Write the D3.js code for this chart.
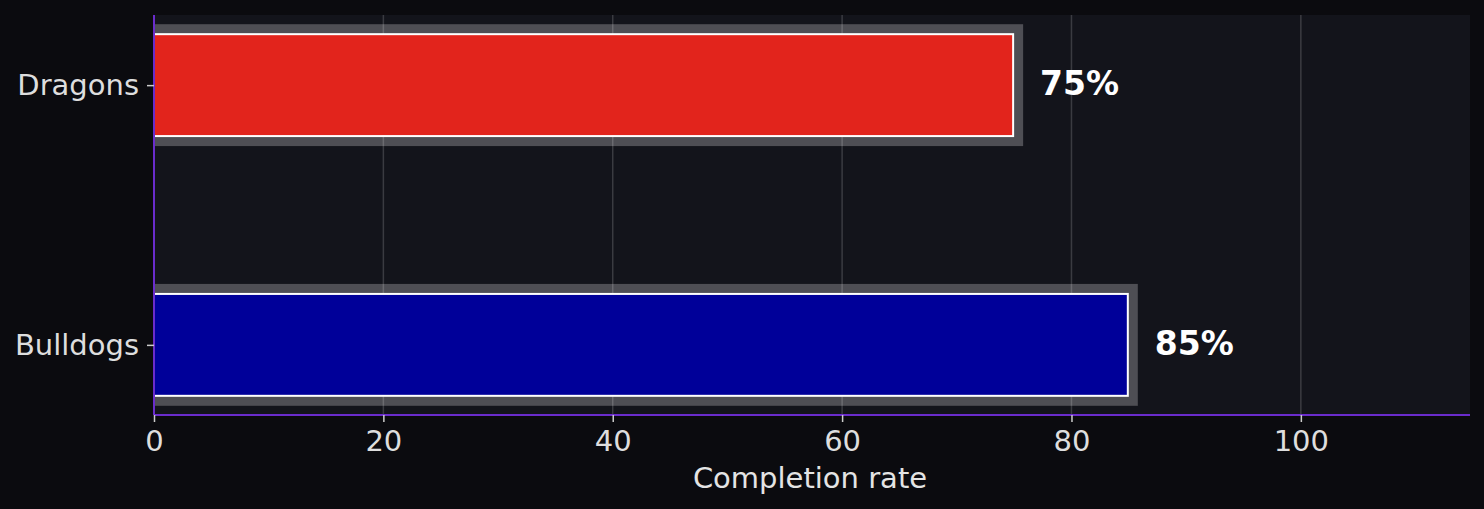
<!DOCTYPE html>
<html>
<head>
<meta charset="utf-8">
<script src="https://cdn.jsdelivr.net/npm/d3@7"></script>
<style>
  html, body { margin: 0; padding: 0; background: #0b0b0f; }
  svg { display: block; font-family: 'DejaVu Sans', sans-serif; }
</style>
</head>
<body>
<svg id="chart" width="1484" height="509"></svg>
<script>
// chart values
const teams = ['Bulldogs', 'Dragons'];
const rates = [85, 75];
const barColors = ['#000099', '#e2241c'];
const xTicks = [0, 20, 40, 60, 80, 100];
const xLabel = 'Completion rate';

const W = 1484;
const H = 509;
const margin = { top: 15, right: 14, bottom: 94, left: 154 };
const innerW = W - margin.left - margin.right;
const innerH = H - margin.top - margin.bottom;

const BAR_HEIGHT = 0.4;
const SHADOW_PAD = 9;

const svg = d3.select('#chart');
svg.append('rect').attr('width', W).attr('height', H).attr('fill', '#0b0b0f');

const x = d3.scaleLinear().domain([0, 114.75]).range([0, innerW]);
const y = d3.scaleLinear().domain([-0.27, teams.length - 1 + 0.27]).range([innerH, 0]);

const g = svg.append('g').attr('transform', `translate(${margin.left},${margin.top})`);

g.append('rect')
  .attr('width', innerW)
  .attr('height', innerH)
  .attr('fill', '#13141b');

const rows = teams.map((name, i) => ({ name, i, value: rates[i], color: barColors[i] }));
const barH = y(0) - y(BAR_HEIGHT);

// gray halo behind each bar
g.selectAll('rect.halo')
  .data(rows)
  .enter()
  .append('rect')
  .attr('class', 'halo')
  .attr('x', x(0))
  .attr('y', d => y(d.i + BAR_HEIGHT / 2) - SHADOW_PAD)
  .attr('width', d => x(d.value) - x(0) + SHADOW_PAD)
  .attr('height', barH + SHADOW_PAD * 2)
  .attr('fill', '#4e4e54');

// vertical grid
g.selectAll('line.grid')
  .data(xTicks)
  .enter()
  .append('line')
  .attr('class', 'grid')
  .attr('x1', d => x(d))
  .attr('x2', d => x(d))
  .attr('y1', 0)
  .attr('y2', innerH)
  .attr('stroke', '#ffffff')
  .attr('stroke-opacity', 0.17)
  .attr('stroke-width', 1.5);

g.selectAll('rect.bar')
  .data(rows)
  .enter()
  .append('rect')
  .attr('class', 'bar')
  .attr('x', x(0))
  .attr('y', d => y(d.i + BAR_HEIGHT / 2) + 1)
  .attr('width', d => x(d.value) - x(0) - 1)
  .attr('height', barH - 2)
  .attr('fill', d => d.color)
  .attr('stroke', '#ffffff')
  .attr('stroke-width', 2);

g.selectAll('text.value')
  .data(rows)
  .enter()
  .append('text')
  .attr('class', 'value')
  .attr('x', d => x(d.value + 2) + 3)
  .attr('y', d => y(d.i))
  .attr('dy', '0.3em')
  .attr('fill', '#ffffff')
  .attr('font-size', 33)
  .attr('font-weight', 'bold')
  .text(d => `${d.value}%`);

// axes
const xAxis = g.append('g')
  .attr('transform', `translate(0,${innerH})`)
  .call(d3.axisBottom(x).tickValues(xTicks).tickSize(7).tickPadding(8));
const yAxis = g.append('g')
  .call(d3.axisLeft(y).tickValues(teams.map((t, i) => i)).tickFormat(i => teams[i]).tickSize(7).tickPadding(8));

[xAxis, yAxis].forEach(ax => {
  ax.select('.domain').attr('stroke', '#6a2ccc').attr('stroke-width', 2);
  ax.selectAll('.tick line').attr('stroke', '#cccccc').attr('stroke-width', 1.5);
  ax.selectAll('.tick text')
    .attr('fill', '#dedede')
    .attr('font-size', 29)
    .attr('font-family', 'DejaVu Sans, sans-serif');
});
xAxis.select('.domain').attr('d', `M0,0H${innerW}`);
yAxis.select('.domain').attr('d', `M0,0V${innerH}`);

g.append('text')
  .attr('x', innerW / 2 - 2)
  .attr('y', innerH + 73)
  .attr('text-anchor', 'middle')
  .attr('fill', '#e4e4e4')
  .attr('font-size', 29)
  .text(xLabel);
</script>
</body>
</html>
